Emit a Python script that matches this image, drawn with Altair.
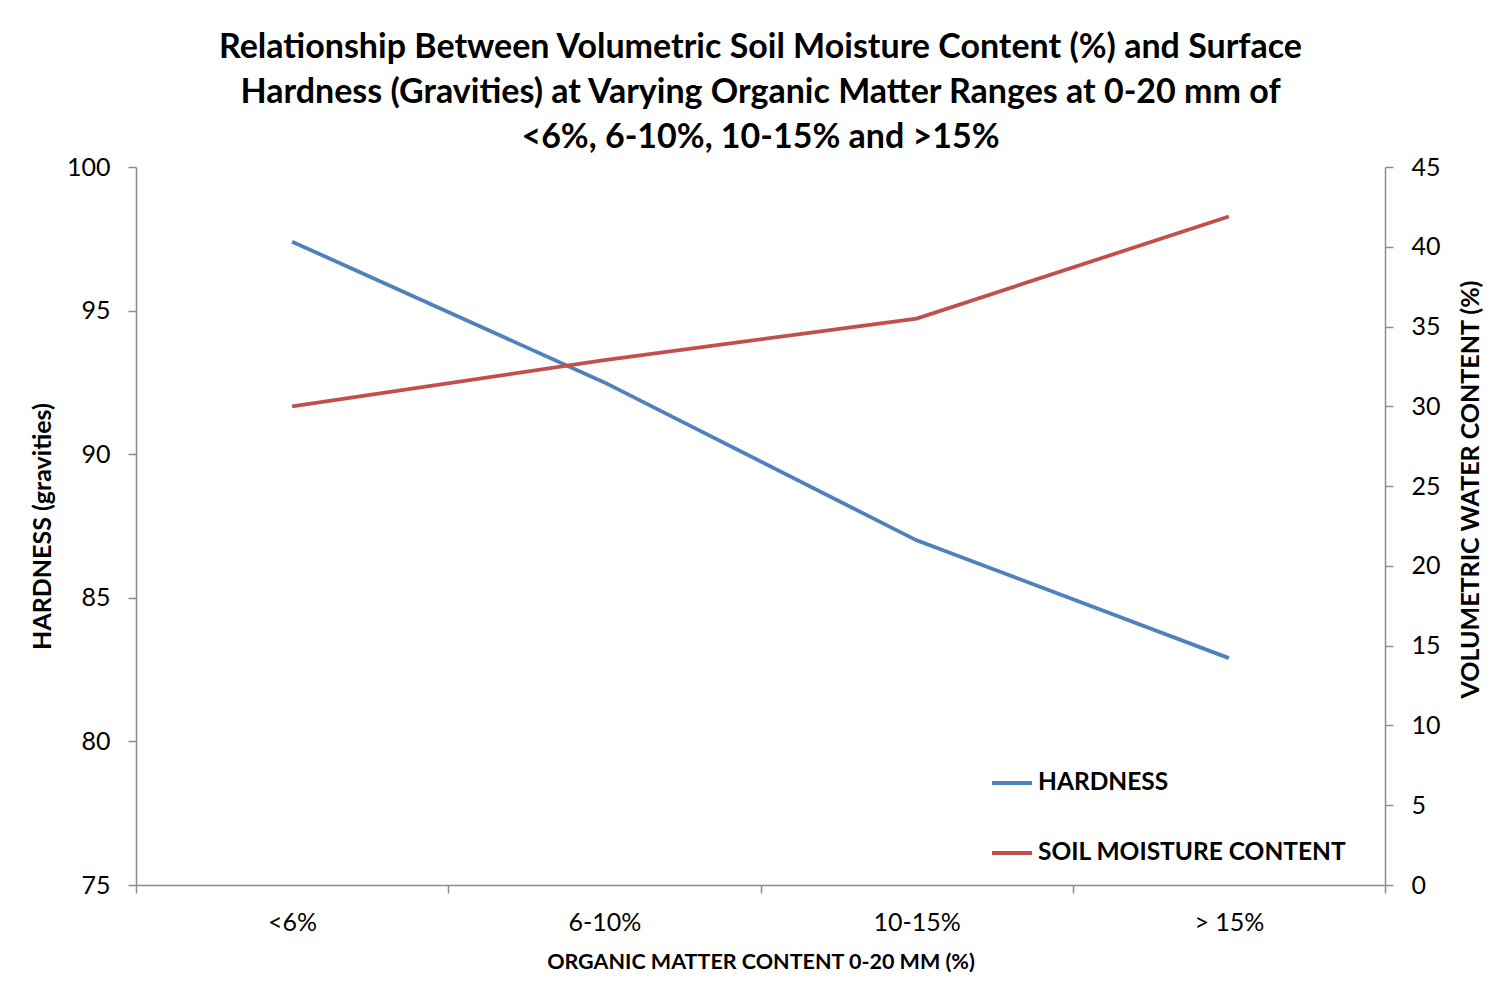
import altair as alt
import pandas as pd

# Organic matter ranges (0-20 mm) and the two measured series
categories = ["<6%", "6-10%", "10-15%", "> 15%"]
hardness = [97.4, 92.5, 87.0, 82.9]          # gravities
moisture = [30.0, 32.9, 35.5, 41.9]          # volumetric water content, %
series_names = ["HARDNESS", "SOIL MOISTURE CONTENT"]
series_colors = ["#4F81BD", "#C0504D"]

df = pd.DataFrame({
    "category": categories * 2,
    "series": [series_names[0]] * len(categories) + [series_names[1]] * len(categories),
    "value": hardness + moisture,
})

FONT = "Lato"
AXIS_GREY = "#8c8c8c"

x_enc = alt.X(
    "category:N",
    sort=categories,
    scale=alt.Scale(type="band", paddingInner=0, paddingOuter=0),
    bandPosition=0.5,
    axis=alt.Axis(
        title="ORGANIC MATTER CONTENT 0-20 MM (%)",
        labelAngle=0,
        tickBand="extent",
        labelPadding=17,
        titlePadding=16,
        titleFontSize=21.5,
    ),
)

color_enc = alt.Color(
    "series:N",
    scale=alt.Scale(domain=series_names, range=series_colors),
    legend=alt.Legend(
        title=None,
        orient="none",
        legendX=854,
        legendY=594,
        symbolType="stroke",
        symbolSize=1600,
        symbolStrokeWidth=3.8,
        labelFontSize=24.5,
        labelFontWeight="bold",
        labelFont=FONT,
        labelColor="black",
        labelOffset=4,
        labelLimit=0,
        rowPadding=36,
    ),
)

base = alt.Chart(df).mark_line(strokeWidth=3.8).encode(x=x_enc, color=color_enc)

hard_line = base.transform_filter(alt.datum.series == series_names[0]).encode(
    y=alt.Y(
        "value:Q",
        scale=alt.Scale(domain=[75, 100], nice=False, zero=False),
        axis=alt.Axis(
            title="HARDNESS (gravities)",
            orient="left",
            values=[75, 80, 85, 90, 95, 100],
            labelPadding=18,
            titlePadding=11,
        ),
    )
)

moist_line = base.transform_filter(alt.datum.series == series_names[1]).encode(
    y=alt.Y(
        "value:Q",
        scale=alt.Scale(domain=[0, 45], nice=False),
        axis=alt.Axis(
            title="VOLUMETRIC WATER CONTENT (%)",
            orient="right",
            values=list(range(0, 50, 5)),
            labelPadding=18,
            titleAngle=270,
            titleX=85,
            titleY=322,
            titleBaseline="middle",
        ),
    )
)

chart = (
    alt.layer(hard_line, moist_line)
    .resolve_scale(y="independent")
    .properties(
        width=1249,
        height=718,
        autosize=alt.AutoSizeParams(type="none"),
        padding={"left": 136, "top": 167, "right": 124, "bottom": 103},
        background="white",
        title=alt.Title(
            text=[
                "Relationship Between Volumetric Soil Moisture Content (%) and Surface",
                "Hardness (Gravities) at Varying Organic Matter Ranges at 0-20 mm of",
                "<6%, 6-10%, 10-15% and >15%",
            ],
            font=FONT,
            fontSize=34,
            fontWeight="bold",
            color="black",
            lineHeight=45,
            anchor="middle",
            offset=0,
        ),
    )
    .configure_view(strokeWidth=0)
    .configure_axis(
        grid=False,
        domainColor=AXIS_GREY,
        domainWidth=1.5,
        tickColor=AXIS_GREY,
        tickWidth=1.5,
        tickSize=8,
        labelFont=FONT,
        labelFontSize=25,
        labelColor="black",
        titleFont=FONT,
        titleFontSize=25,
        titleFontWeight="bold",
        titleColor="black",
    )
)

chart.save("out.html", embed_options={"renderer": "svg", "actions": False})
